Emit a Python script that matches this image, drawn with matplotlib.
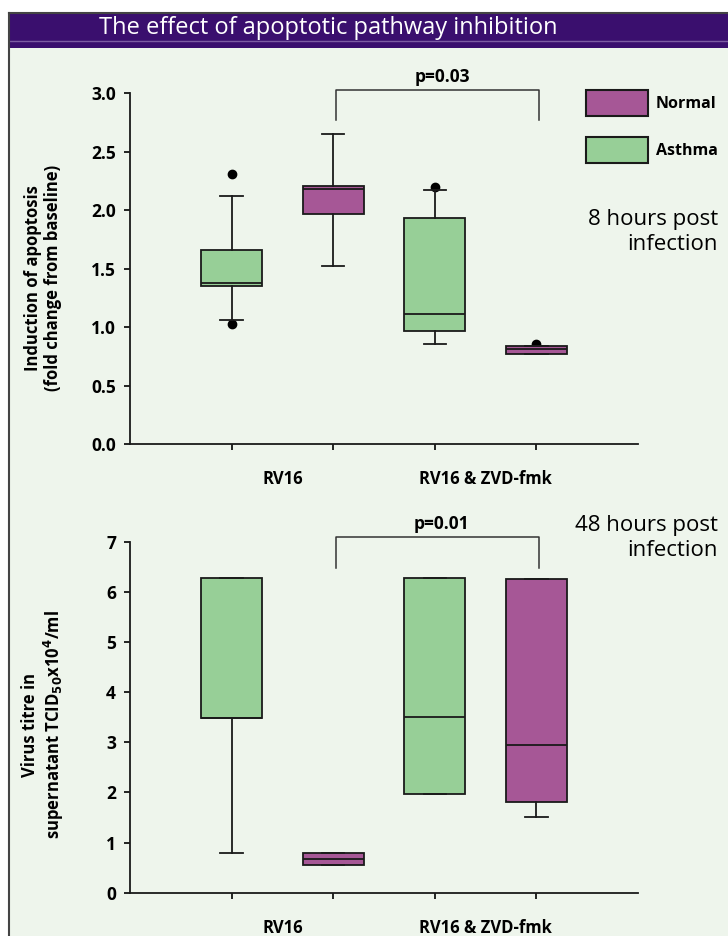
import matplotlib.pyplot as plt
from matplotlib.patches import Patch, Rectangle
from matplotlib.lines import Line2D

# ---- data ----
groups = ["Asthma", "Normal", "Asthma", "Normal"]
conditions = ["RV16", "RV16 & ZVD-fmk"]

# 8 hours post infection: induction of apoptosis
apo_whislo = [1.06, 1.52, 0.855, 0.77]
apo_q1 = [1.35, 1.97, 0.97, 0.77]
apo_med = [1.38, 2.18, 1.11, 0.81]
apo_q3 = [1.66, 2.21, 1.93, 0.84]
apo_whishi = [2.12, 2.65, 2.17, 0.84]
apo_fliers = [[2.31, 1.03], [], [2.20], [0.855]]
apo_p = "p=0.03"

# 48 hours post infection: virus titre
vir_whislo = [0.80, 0.55, 1.97, 1.50]
vir_q1 = [3.48, 0.55, 1.97, 1.81]
vir_med = [3.48, 0.67, 3.50, 2.95]
vir_q3 = [6.28, 0.80, 6.27, 6.26]
vir_whishi = [6.28, 0.80, 6.27, 6.26]
vir_fliers = [[], [], [], []]
vir_p = "p=0.01"

colors = {"Normal": "#a65796", "Asthma": "#97cf97"}
bg = "#eef5ec"
bar_col = "#3a0f6e"

W, H = 728, 936
plt.rcParams["font.family"] = ["Open Sans", "DejaVu Sans"]
fig = plt.figure(figsize=(W / 100, H / 100), dpi=100, facecolor="white")


def fx(px):
    return px / W


def fy(py):
    return 1 - py / H


# background, title bar and frame
fig.add_artist(Rectangle((fx(9), 0), 1, fy(48), transform=fig.transFigure,
                         facecolor=bg, edgecolor="none", zorder=-10))
fig.add_artist(Rectangle((fx(9), fy(48)), 1, fy(13) - fy(48), transform=fig.transFigure,
                         facecolor=bar_col, edgecolor="none", zorder=-9))
fig.add_artist(Line2D([fx(9), 1], [fy(40.5), fy(40.5)], transform=fig.transFigure,
                      color="#7d5ca3", lw=1))
fig.add_artist(Line2D([fx(9), fx(9)], [0, fy(13)], transform=fig.transFigure,
                      color="#444444", lw=1.5))
fig.add_artist(Line2D([fx(9), 1], [fy(13), fy(13)], transform=fig.transFigure,
                      color="#444444", lw=1.5))
fig.text(fx(328), fy(28), "The effect of apoptotic pathway inhibition", color="white",
         fontsize=17, ha="center", va="center")


def draw_panel(ax, whislo, q1, med, q3, whishi, fliers, ymax, yticks, fmt,
               ylabel, ylabel_y, ptext, pbar_y, pleg_y):
    stats = []
    for i in range(len(groups)):
        stats.append(dict(whislo=whislo[i], q1=q1[i], med=med[i], q3=q3[i],
                          whishi=whishi[i], fliers=fliers[i]))
    lw = 1.3
    res = ax.bxp(stats, positions=[1, 2, 3, 4], widths=0.6, capwidths=0.22,
                 patch_artist=True, manage_ticks=False,
                 boxprops=dict(edgecolor="#1a1a1a", linewidth=lw),
                 medianprops=dict(color="#1a1a1a", linewidth=lw),
                 whiskerprops=dict(color="#1a1a1a", linewidth=lw),
                 capprops=dict(color="#1a1a1a", linewidth=lw),
                 flierprops=dict(marker="o", markerfacecolor="black",
                                 markeredgecolor="black", markersize=6))
    for box, g in zip(res["boxes"], groups):
        box.set_facecolor(colors[g])
    for fl in res["fliers"]:
        fl.set_zorder(1.5)

    ax.set_xlim(0, 5)
    ax.set_ylim(0, ymax)
    ax.set_facecolor("none")
    for s in ["top", "right"]:
        ax.spines[s].set_visible(False)
    for s in ["left", "bottom"]:
        ax.spines[s].set_linewidth(1.3)
        ax.spines[s].set_color("#1a1a1a")
    ax.set_yticks(yticks)
    ax.set_yticklabels([fmt.format(v) for v in yticks], fontweight="bold", fontsize=12.5)
    ax.tick_params(axis="y", length=4, width=1.2, pad=6)
    ax.set_xticks([1, 2, 3, 4])
    ax.set_xticklabels([])
    ax.tick_params(axis="x", which="major", length=4, width=1.2)
    ax.set_xticks([1.5, 3.5], minor=True)
    ax.set_xticklabels(conditions, minor=True, fontweight="bold", fontsize=12)
    ax.tick_params(axis="x", which="minor", length=0, pad=19)

    ax.text(-0.171, ylabel_y, ylabel, transform=ax.transAxes, rotation=90,
            ha="center", va="center", fontweight="bold", fontsize=12,
            multialignment="center", linespacing=1.15)

    # significance bracket
    x0, x1 = 2.03, 4.03
    ax.plot([x0, x0, x1, x1], [pleg_y, pbar_y, pbar_y, pleg_y], color="#333333",
            lw=1.1, clip_on=False)
    ax.annotate(ptext, (3.07, pbar_y), xytext=(0, 3), textcoords="offset points",
                ha="center", va="bottom", fontweight="bold", fontsize=12.5,
                annotation_clip=False)
    return ax


ax1 = fig.add_axes([fx(130), fy(444), fx(638) - fx(130), fy(93.3) - fy(444)])
draw_panel(ax1, apo_whislo, apo_q1, apo_med, apo_q3, apo_whishi, apo_fliers,
           3.0, [0, 0.5, 1.0, 1.5, 2.0, 2.5, 3.0], "{:.1f}",
           "Induction of apoptosis\n(fold change from baseline)", 0.473,
           apo_p, 3.03, 2.77)

ax2 = fig.add_axes([fx(130), fy(892.7), fx(638) - fx(130), fy(541.7) - fy(892.7)])
draw_panel(ax2, vir_whislo, vir_q1, vir_med, vir_q3, vir_whishi, vir_fliers,
           7, [0, 1, 2, 3, 4, 5, 6, 7], "{:d}",
           "Virus titre in\nsupernatant TCID$_{\\mathbf{50}}$x10$^{\\mathbf{4}}$/ml", 0.478,
           vir_p, 7.09, 6.47)

# legend
handles = [Patch(facecolor=colors["Normal"], edgecolor="#1a1a1a", linewidth=1.5, label="Normal"),
           Patch(facecolor=colors["Asthma"], edgecolor="#1a1a1a", linewidth=1.5, label="Asthma")]
leg = fig.legend(handles=handles, loc="upper left", bbox_to_anchor=(fx(585.7), fy(90)),
                 frameon=False, borderpad=0, handlelength=3.9, handleheight=2.15,
                 labelspacing=1.3, handletextpad=0.5, borderaxespad=0,
                 prop=dict(weight="bold", size=11.5))

fig.text(fx(718), fy(232), "8 hours post\ninfection", ha="right", va="center",
         fontsize=16, linespacing=1.2)
fig.text(fx(718), fy(538), "48 hours post\ninfection", ha="right", va="center",
         fontsize=16, linespacing=1.2)

fig.savefig("out.png", dpi=100, facecolor="white")
